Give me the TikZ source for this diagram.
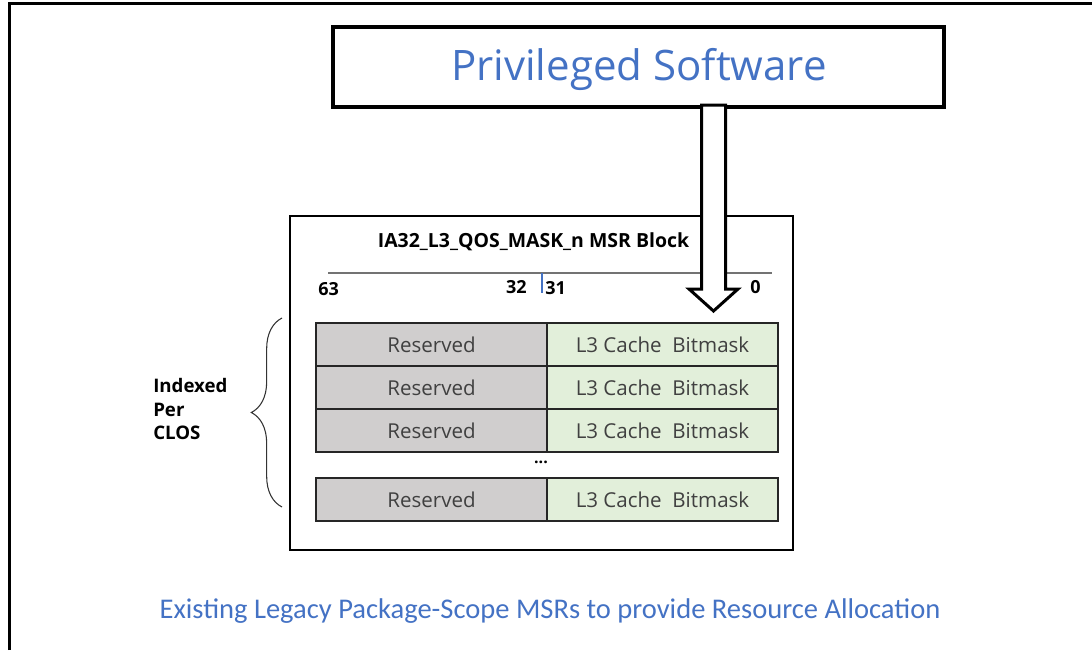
\documentclass[tikz,border=0pt]{standalone}
\usepackage{fontspec}
\setmainfont{Open Sans}
\newfontfamily\capfont{Carlito}
\usetikzlibrary{decorations.pathreplacing}
\definecolor{tblue}{HTML}{4472C4}
\definecolor{resgray}{HTML}{D0CECE}
\definecolor{bitgreen}{HTML}{E2EFDA}
\definecolor{celltext}{HTML}{404040}
\begin{document}
\begin{tikzpicture}[x=0.75pt,y=-0.75pt,
  frame/.style={line width=2.25pt},
  swbox/.style={draw=black, line width=2.6pt, minimum width=458pt, minimum height=60pt,
    inner sep=0pt},
  swtext/.style={inner sep=0pt, font=\fontsize{31.5}{36}\selectfont, text=tblue},
  msrbox/.style={draw=black, line width=1.1pt},
  resv/.style={draw=black!85, line width=1.1pt, fill=resgray, minimum width=173.25pt,
    minimum height=32.25pt, inner sep=0pt, font=\fontsize{15.4}{18}\selectfont, text=celltext},
  bits/.style={resv, fill=bitgreen},
  lbl/.style={font=\bfseries\fontsize{13.5}{16}\selectfont, inner sep=0pt},
  bigarrow/.style={draw=black, line width=2.25pt, fill=white, line join=miter}
]
\useasboundingbox (0,0) rectangle (1092,650);
% outer frame (top and left edges)
\draw[frame] (9.5,650) -- (9.5,3) -- (1092,3);

% privileged software
\node[swbox] (psw) at (638.5,67) {};
\node[swtext] (pswtext) at (639,69.5) {Privileged Software};

% MSR block
\node[msrbox, minimum width=377.25pt, minimum height=250.5pt, inner sep=0pt] (blk) at (541.5,383) {};
\node[lbl, font=\bfseries\fontsize{14.6}{17}\selectfont] (title) at (533.5,242) {IA32\_L3\_QOS\_MASK\_n MSR Block};
\coordinate (rl) at (328,273);
\coordinate (rr) at (772,273);
\draw[black!55, line width=0.8pt] (rl) -- (rr);
\coordinate (tk1) at (542,273);
\coordinate (tk2) at (542,293);
\draw[tblue, line width=0.8pt] (tk1) -- (tk2);
\node[lbl, anchor=west] (b63) at (318,289) {63};
\node[lbl, anchor=east] (b32) at (527,287) {32};
\node[lbl, anchor=west] (b31) at (545,288) {31};
\node[lbl, anchor=west] (b0) at (750,287) {0};

% rows
\node[resv] (r1) at (431.5,344.5) {Reserved};
\node[bits] (g1) at (662.5,344.5) {L3 Cache\ \ Bitmask};
\node[resv] (r2) at (431.5,387.5) {Reserved};
\node[bits] (g2) at (662.5,387.5) {L3 Cache\ \ Bitmask};
\node[resv] (r3) at (431.5,430.5) {Reserved};
\node[bits] (g3) at (662.5,430.5) {L3 Cache\ \ Bitmask};
\node[lbl, font=\bfseries\fontsize{12}{14}\selectfont] (dots) at (541,462) {...};
\node[resv] (r4) at (431.5,499.5) {Reserved};
\node[bits] (g4) at (662.5,499.5) {L3 Cache\ \ Bitmask};

% brace
\coordinate (bt) at (282,318);
\coordinate (bb) at (282,507);
\draw[black!80, line width=0.8pt, decorate, decoration={brace, amplitude=23pt}] (bb) -- (bt);
\node[lbl, anchor=west, align=left, font=\bfseries\fontsize{14}{17.6}\selectfont] (idx) at (153,409) {Indexed\\Per\\CLOS};

% big arrow
\draw[bigarrow] (701.5,105) -- (701.5,289) -- (689,289) -- (713.5,311) -- (738,289) -- (725.5,289) -- (725.5,105) -- cycle;

% caption
\node[font=\capfont\fontsize{21.4}{24}\selectfont, text=tblue] (cap) at (550,611) {Existing Legacy Package-Scope MSRs to provide Resource Allocation};
\end{tikzpicture}
\end{document}
